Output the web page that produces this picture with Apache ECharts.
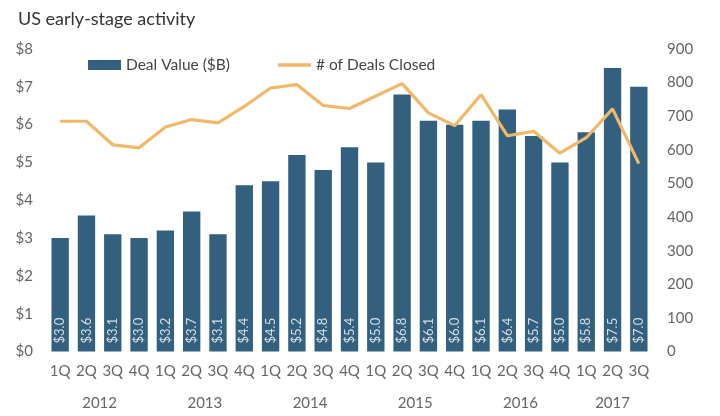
<!DOCTYPE html>
<html>
<head>
<meta charset="utf-8">
<script src="https://cdn.jsdelivr.net/npm/echarts@6/dist/echarts.min.js"></script>
<style>
html,body{margin:0;padding:0;background:#fff;}
#c{width:720px;height:416px;}
</style>
</head>
<body>
<div id="c"></div>
<script>
var quarters = ['1Q','2Q','3Q','4Q','1Q','2Q','3Q','4Q','1Q','2Q','3Q','4Q','1Q','2Q','3Q','4Q','1Q','2Q','3Q','4Q','1Q','2Q','3Q'];
var years = ['2012','2013','2014','2015','2016','2017'];
var yearCenters = [1.5, 5.5, 9.5, 13.5, 17.5, 21]; // category index where the year label is centred
var dealValue = [3.0,3.6,3.1,3.0,3.2,3.7,3.1,4.4,4.5,5.2,4.8,5.4,5.0,6.8,6.1,6.0,6.1,6.4,5.7,5.0,5.8,7.5,7.0];
var dealsClosed = [685,685,615,606,668,690,680,729,784,794,732,723,760,797,710,672,764,642,655,590,636,722,559];
var leftTicks = [0,1,2,3,4,5,6,7,8];
var rightTicks = [0,100,200,300,400,500,600,700,800,900];

// half-step category axis for the year row
var yearAxisData = [];
for (var k = 0; k <= quarters.length * 2; k++) yearAxisData.push('');
yearCenters.forEach(function (c, i) { yearAxisData[Math.round(c * 2 + 1)] = years[i]; });

var FONT = 'Lato';
var chart = echarts.init(document.getElementById('c'));
chart.setOption({
  animation: false,
  textStyle: { fontFamily: FONT },
  title: {
    text: 'US early-stage activity',
    left: 13, top: 5,
    textStyle: { fontFamily: FONT, fontSize: 18, fontWeight: 'normal', color: '#333' }
  },
  legend: {
    left: 83, top: 52,
    itemGap: 48,
    itemWidth: 33, itemHeight: 10,
    textStyle: { fontFamily: FONT, fontSize: 15.5, color: '#444' },
    data: [
      { name: 'Deal Value ($B)', icon: 'rect' },
      { name: '# of Deals Closed', icon: 'path://M0,0H33V3.5H0Z' }
    ]
  },
  grid: { left: 47, right: 68, top: 49, bottom: 64.5 },
  xAxis: [
    {
      type: 'category', data: quarters, position: 'bottom',
      axisLine: { show: false }, axisTick: { show: false },
      axisLabel: { interval: 0, margin: 12, fontSize: 15, color: '#666', fontFamily: FONT }
    },
    {
      type: 'category', data: yearAxisData, boundaryGap: false, position: 'bottom', offset: 32,
      axisLine: { show: false }, axisTick: { show: false },
      axisLabel: { interval: 0, margin: 12, fontSize: 15, color: '#666', fontFamily: FONT }
    }
  ],
  yAxis: [
    {
      type: 'value', min: leftTicks[0], max: leftTicks[leftTicks.length - 1], interval: 1,
      splitLine: { show: false }, axisLine: { show: false }, axisTick: { show: false },
      axisLabel: { margin: 14, fontSize: 15, color: '#666', fontFamily: FONT, formatter: function (v) { return '$' + v; } }
    },
    {
      type: 'value', min: rightTicks[0], max: rightTicks[rightTicks.length - 1], interval: 100,
      splitLine: { show: false }, axisLine: { show: false }, axisTick: { show: false },
      axisLabel: { margin: 15, fontSize: 15, color: '#666', fontFamily: FONT }
    }
  ],
  series: [
    {
      name: 'Deal Value ($B)', type: 'bar', data: dealValue, xAxisIndex: 0, yAxisIndex: 0,
      barWidth: '66%',
      itemStyle: { color: '#33607e' },
      label: {
        show: true, position: 'insideBottom', rotate: 90, align: 'left', verticalAlign: 'middle',
        distance: 8, fontSize: 13, color: '#d3dfe8', fontFamily: FONT,
        formatter: function (p) { return '$' + p.value.toFixed(1); }
      }
    },
    {
      name: '# of Deals Closed', type: 'line', data: dealsClosed, xAxisIndex: 0, yAxisIndex: 1,
      symbol: 'none', lineStyle: { color: '#f0b868', width: 3.2 }, itemStyle: { color: '#f0b868' }
    }
  ]
});
</script>
</body>
</html>
